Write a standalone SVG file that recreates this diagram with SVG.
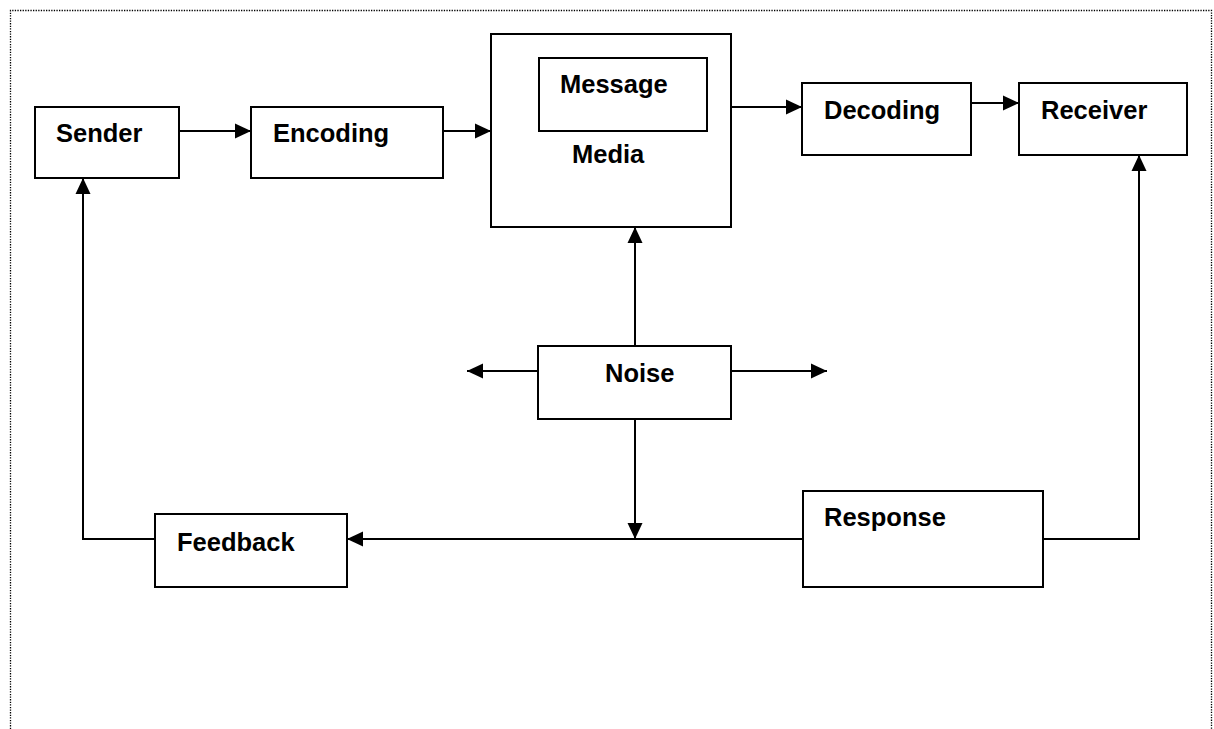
<svg xmlns="http://www.w3.org/2000/svg" width="1214" height="729" viewBox="0 0 1214 729">
<style>
.box{fill:#fff;stroke:#000;stroke-width:2}
.lbl{font-family:"Liberation Sans",Arial,sans-serif;font-weight:bold;font-size:25.5px;fill:#000}
.con{fill:none;stroke:#000;stroke-width:2}
.border{fill:none;stroke:#000;stroke-width:1.3;stroke-dasharray:1.3 1.3}
</style>
<defs>
<marker id="arr" markerUnits="userSpaceOnUse" markerWidth="16" markerHeight="16" viewBox="0 0 16 16" refX="16" refY="8" orient="auto">
<path d="M0,0.5 L16,8 L0,15.5 Z" fill="#000"/>
</marker>
</defs>
<rect width="1214" height="729" fill="#fff"/>
<path class="border" d="M10.5,729 V10.5 H1211.5 V729"/>
<g id="connectors">
<line class="con" x1="179" y1="131" x2="251" y2="131" marker-end="url(#arr)"/>
<line class="con" x1="443" y1="131" x2="491" y2="131" marker-end="url(#arr)"/>
<line class="con" x1="731" y1="107" x2="802" y2="107" marker-end="url(#arr)"/>
<line class="con" x1="971" y1="103" x2="1019" y2="103" marker-end="url(#arr)"/>
<line class="con" x1="635" y1="346" x2="635" y2="227" marker-end="url(#arr)"/>
<line class="con" x1="538" y1="371" x2="467" y2="371" marker-end="url(#arr)"/>
<line class="con" x1="731" y1="371" x2="827" y2="371" marker-end="url(#arr)"/>
<line class="con" x1="635" y1="419" x2="635" y2="539" marker-end="url(#arr)"/>
<line class="con" x1="803" y1="539" x2="347" y2="539" marker-end="url(#arr)"/>
<polyline class="con" points="155,539 83,539 83,178" marker-end="url(#arr)"/>
<polyline class="con" points="1043,539 1139,539 1139,155" marker-end="url(#arr)"/>
</g>
<g id="sender"><rect class="box" x="35" y="107" width="144" height="71"/><text class="lbl" x="56" y="142">Sender</text></g>
<g id="encoding"><rect class="box" x="251" y="107" width="192" height="71"/><text class="lbl" x="273" y="142">Encoding</text></g>
<g id="media"><rect class="box" x="491" y="34" width="240" height="193"/><text class="lbl" x="572" y="163">Media</text></g>
<g id="message"><rect class="box" x="539" y="58" width="168" height="73"/><text class="lbl" x="560" y="93">Message</text></g>
<g id="decoding"><rect class="box" x="802" y="83" width="169" height="72"/><text class="lbl" x="824" y="119">Decoding</text></g>
<g id="receiver"><rect class="box" x="1019" y="83" width="168" height="72"/><text class="lbl" x="1041" y="119">Receiver</text></g>
<g id="noise"><rect class="box" x="538" y="346" width="193" height="73"/><text class="lbl" x="605" y="382">Noise</text></g>
<g id="feedback"><rect class="box" x="155" y="514" width="192" height="73"/><text class="lbl" x="177" y="551">Feedback</text></g>
<g id="response"><rect class="box" x="803" y="491" width="240" height="96"/><text class="lbl" x="824" y="526">Response</text></g>
</svg>
